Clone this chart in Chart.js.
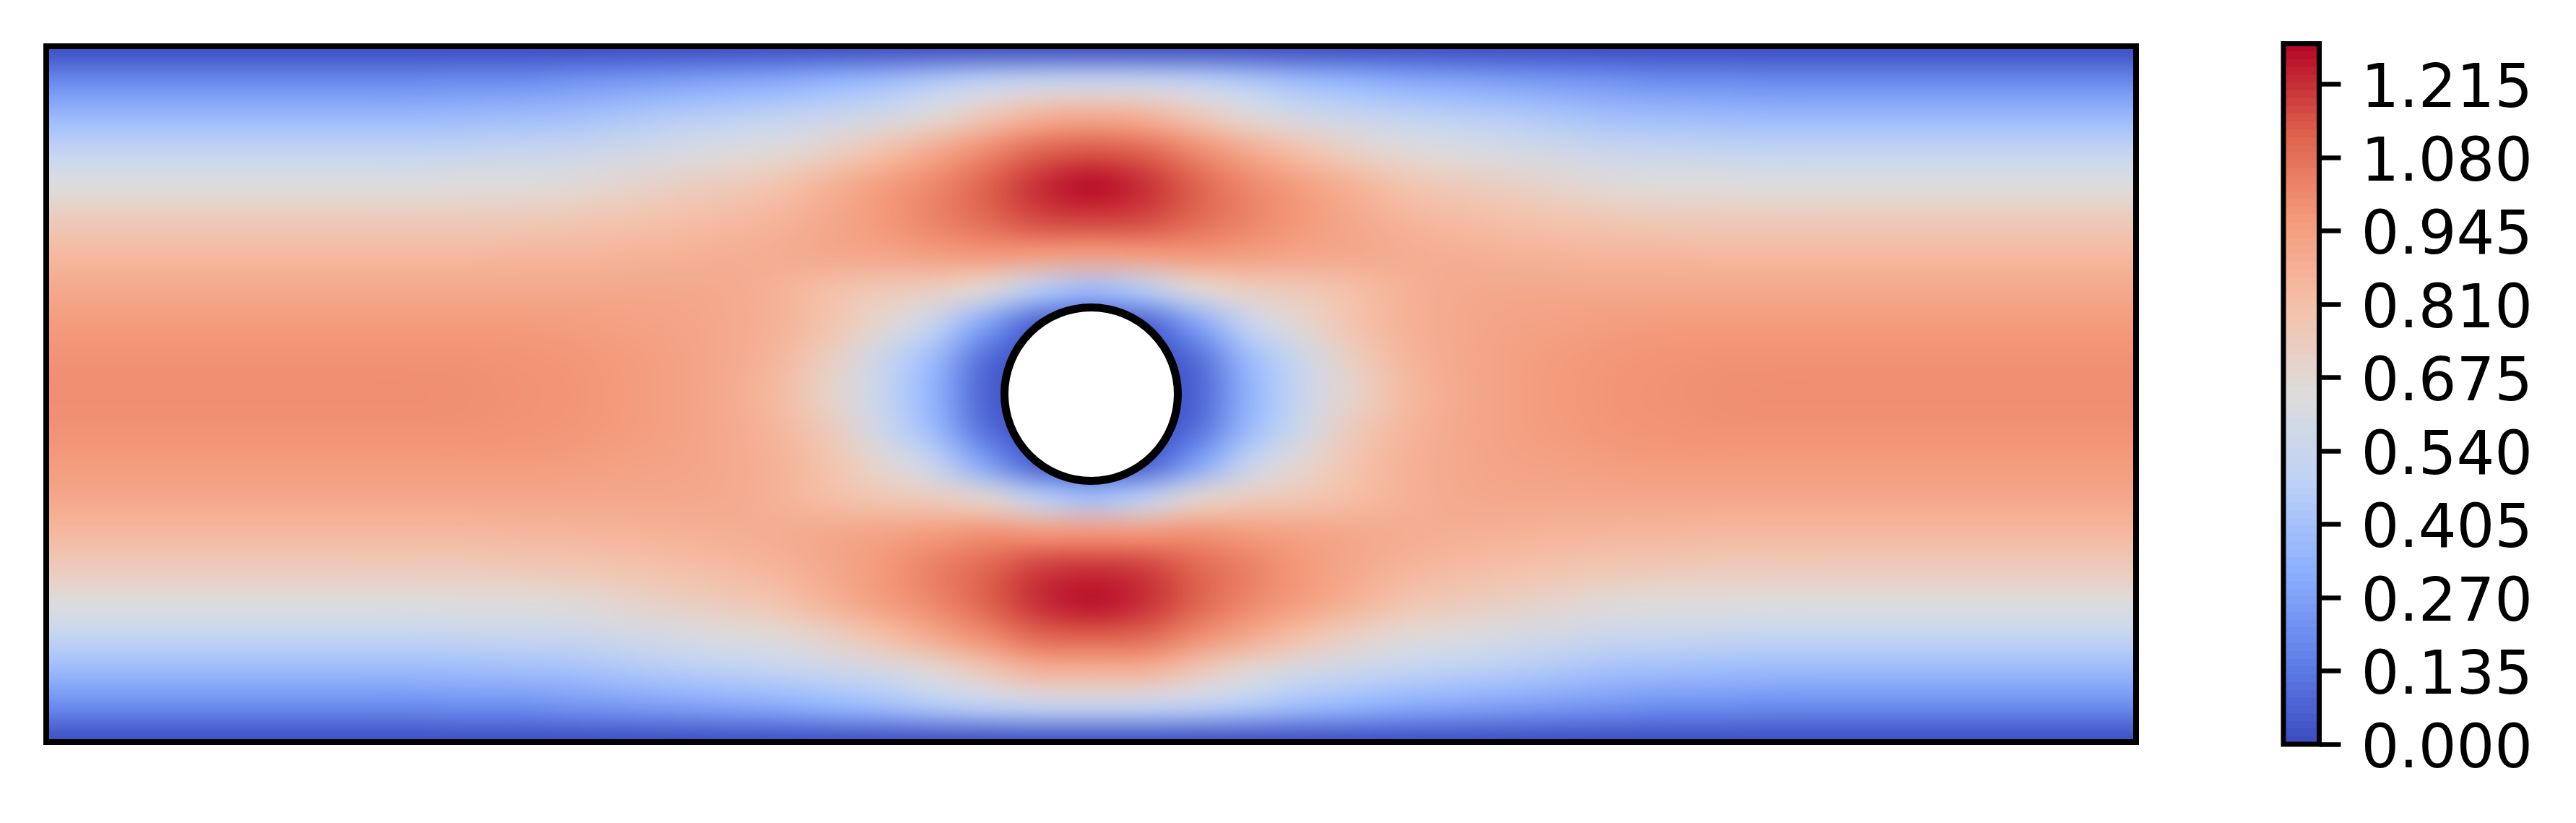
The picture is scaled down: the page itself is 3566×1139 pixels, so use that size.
<!DOCTYPE html>
<html><head><meta charset="utf-8">
<style>html,body{margin:0;padding:0;background:#fff;width:3566px;height:1139px;overflow:hidden}
canvas{position:absolute;left:0;top:0}</style>
<script src="https://cdn.jsdelivr.net/npm/chart.js@4/dist/chart.umd.min.js"></script>
</head><body>
<canvas id="field" width="3566" height="1139"></canvas>
<canvas id="bar" width="3566" height="1139"></canvas>
<script>
const columnX=[0,.075,.15,.225,.3,.375,.45,.525,.6,.675,.75,.825,.9,.975,1.05,1.125,1.2,1.275,1.35,1.425,1.5,1.575,1.65,1.725,1.8,1.875,1.95,2.025,2.1,2.175,2.25,2.325,2.4,2.475,2.55,2.625,2.7,2.775,2.85,2.925,3];
const rowY=[1,.95,.9,.85,.8,.75,.7,.65,.6,.55,.5,.45,.4,.35,.3,.25,.2,.15,.1,.05,0];
const speedRows=[
[0,0,0,0,0,0,0,0,0,0,0,0,0,0,0,0,0,0,0,0,0,0,0,0,0,0,0,0,0,0,0,0,0,0,0,0,0,0,0,0,0],
[.19,.19,.19,.19,.19,.19,.19,.19,.20,.20,.22,.24,.26,.28,.30,.34,.38,.44,.49,.52,.53,.52,.49,.44,.38,.34,.30,.28,.26,.24,.22,.20,.20,.19,.19,.19,.19,.19,.19,.19,.19],
[.36,.36,.36,.36,.36,.36,.36,.36,.37,.38,.39,.42,.45,.47,.50,.54,.58,.66,.76,.86,.89,.86,.76,.66,.58,.54,.50,.47,.45,.42,.39,.38,.37,.36,.36,.36,.36,.36,.36,.36,.36],
[.51,.51,.51,.51,.51,.51,.51,.51,.52,.53,.54,.57,.60,.63,.66,.71,.80,.90,1.01,1.11,1.14,1.11,1.01,.90,.80,.71,.66,.63,.60,.57,.54,.53,.52,.51,.51,.51,.51,.51,.51,.51,.51],
[.64,.64,.64,.64,.64,.64,.64,.64,.65,.65,.66,.69,.72,.75,.79,.87,.95,1.02,1.12,1.22,1.28,1.22,1.12,1.02,.95,.87,.79,.75,.72,.69,.66,.65,.65,.64,.64,.64,.64,.64,.64,.64,.64],
[.75,.75,.75,.75,.75,.75,.75,.75,.75,.76,.77,.79,.81,.83,.86,.91,.97,1.03,1.10,1.17,1.18,1.17,1.10,1.03,.97,.91,.86,.83,.81,.79,.77,.76,.75,.75,.75,.75,.75,.75,.75,.75,.75],
[.84,.84,.84,.84,.84,.84,.84,.84,.84,.85,.85,.86,.87,.88,.89,.91,.92,.95,.97,.95,.94,.95,.97,.95,.92,.91,.89,.88,.87,.86,.85,.85,.84,.84,.84,.84,.84,.84,.84,.84,.84],
[.91,.91,.91,.91,.91,.91,.91,.91,.91,.91,.91,.91,.91,.90,.87,.81,.76,.73,.66,.46,.38,.46,.66,.73,.76,.81,.87,.90,.91,.91,.91,.91,.91,.91,.91,.91,.91,.91,.91,.91,.91],
[.96,.96,.96,.96,.96,.96,.96,.96,.96,.96,.955,.94,.93,.905,.87,.79,.68,.52,.27,.05,0,.05,.27,.52,.68,.79,.87,.905,.93,.94,.955,.96,.96,.96,.96,.96,.96,.96,.96,.96,.96],
[.99,.99,.99,.99,.99,.99,.99,.99,.99,.985,.975,.96,.94,.905,.85,.73,.55,.37,.09,0,0,0,.09,.37,.55,.73,.85,.905,.94,.96,.975,.985,.99,.99,.99,.99,.99,.99,.99,.99,.99],
[1,1,1,1,1,1,1,1,.995,.99,.98,.965,.94,.90,.83,.70,.53,.33,.06,0,0,0,.06,.33,.53,.70,.83,.90,.94,.965,.98,.99,.995,1,1,1,1,1,1,1,1],
[.99,.99,.99,.99,.99,.99,.99,.99,.99,.985,.975,.96,.94,.905,.85,.75,.56,.37,.10,0,0,0,.10,.37,.56,.75,.85,.905,.94,.96,.975,.985,.99,.99,.99,.99,.99,.99,.99,.99,.99],
[.96,.96,.96,.96,.96,.96,.96,.96,.96,.96,.955,.94,.93,.905,.87,.79,.68,.52,.27,.05,0,.05,.27,.52,.68,.79,.87,.905,.93,.94,.955,.96,.96,.96,.96,.96,.96,.96,.96,.96,.96],
[.91,.91,.91,.91,.91,.91,.91,.91,.91,.91,.91,.91,.91,.90,.87,.82,.77,.74,.68,.48,.40,.48,.68,.74,.77,.82,.87,.90,.91,.91,.91,.91,.91,.91,.91,.91,.91,.91,.91,.91,.91],
[.84,.84,.84,.84,.84,.84,.84,.84,.84,.85,.85,.86,.87,.88,.89,.91,.93,.96,.99,.97,.97,.97,.99,.96,.93,.91,.89,.88,.87,.86,.85,.85,.84,.84,.84,.84,.84,.84,.84,.84,.84],
[.75,.75,.75,.75,.75,.75,.75,.75,.75,.76,.77,.79,.81,.83,.86,.91,.97,1.04,1.11,1.19,1.21,1.19,1.11,1.04,.97,.91,.86,.83,.81,.79,.77,.76,.75,.75,.75,.75,.75,.75,.75,.75,.75],
[.64,.64,.64,.64,.64,.64,.64,.64,.65,.65,.66,.69,.72,.75,.79,.87,.95,1.02,1.12,1.22,1.27,1.22,1.12,1.02,.95,.87,.79,.75,.72,.69,.66,.65,.65,.64,.64,.64,.64,.64,.64,.64,.64],
[.51,.51,.51,.51,.51,.51,.51,.51,.52,.53,.54,.57,.60,.63,.66,.71,.80,.90,1.00,1.10,1.115,1.10,1.00,.90,.80,.71,.66,.63,.60,.57,.54,.53,.52,.51,.51,.51,.51,.51,.51,.51,.51],
[.36,.36,.36,.36,.36,.36,.36,.36,.37,.38,.39,.42,.45,.47,.50,.54,.58,.66,.75,.85,.85,.85,.75,.66,.58,.54,.50,.47,.45,.42,.39,.38,.37,.36,.36,.36,.36,.36,.36,.36,.36],
[.19,.19,.19,.19,.19,.19,.19,.19,.20,.20,.22,.24,.26,.28,.30,.34,.38,.44,.48,.51,.52,.51,.48,.44,.38,.34,.30,.28,.26,.24,.22,.20,.20,.19,.19,.19,.19,.19,.19,.19,.19],
[0,0,0,0,0,0,0,0,0,0,0,0,0,0,0,0,0,0,0,0,0,0,0,0,0,0,0,0,0,0,0,0,0,0,0,0,0,0,0,0,0]
];
const cylinderCentre=[{x:1.5,y:.5}];
const colorbarTicks=[0,.135,.27,.405,.54,.675,.81,.945,1.08,1.215];
const speedMax=1.29;

const coolwarmStops=[[0,59,76,192],[.125,98,130,234],[.25,141,176,254],[.375,190,210,246],[.5,221,220,220],[.625,245,193,169],[.75,244,154,123],[.875,221,95,75],[1,180,4,38]];
function coolwarm(t){
  t=Math.max(0,Math.min(1,t));
  for(let i=1;i<coolwarmStops.length;i++){
    const a=coolwarmStops[i-1],b=coolwarmStops[i];
    if(t<=b[0]){const f=(t-a[0])/(b[0]-a[0]);return [a[1]+f*(b[1]-a[1]),a[2]+f*(b[2]-a[2]),a[3]+f*(b[3]-a[3])];}
  }
  return coolwarmStops[8].slice(1);
}
const points=[];
rowY.forEach((y,r)=>columnX.forEach((x,c)=>points.push({x,y,v:speedRows[r][c]})));

const framePlugin=lw=>({id:'frame',afterDraw(chart){
  const a=chart.chartArea,ctx=chart.ctx;
  ctx.save();ctx.strokeStyle='#000';ctx.lineWidth=lw;
  ctx.strokeRect(a.left,a.top,a.right-a.left,a.bottom-a.top);ctx.restore();
}});
const fieldPlugin={id:'fieldImage',beforeDatasetsDraw(chart){
  const nx=columnX.length,ny=rowY.length,off=document.createElement('canvas');
  off.width=nx;off.height=ny;
  const oc=off.getContext('2d'),img=oc.createImageData(nx,ny);
  points.forEach((p,i)=>{const c=coolwarm(p.v/speedMax);img.data.set([c[0],c[1],c[2],255],i*4);});
  oc.putImageData(img,0,0);
  const X=chart.scales.x,Y=chart.scales.y,dx=(columnX[1]-columnX[0])/2,dy=(rowY[0]-rowY[1])/2;
  const x0=X.getPixelForValue(columnX[0]-dx),x1=X.getPixelForValue(columnX[nx-1]+dx);
  const y0=Y.getPixelForValue(rowY[0]+dy),y1=Y.getPixelForValue(rowY[ny-1]-dy);
  const a=chart.chartArea,ctx=chart.ctx;
  ctx.save();ctx.beginPath();ctx.rect(a.left,a.top,a.right-a.left,a.bottom-a.top);ctx.clip();
  ctx.imageSmoothingEnabled=true;ctx.imageSmoothingQuality='high';
  ctx.drawImage(off,x0,y0,x1-x0,y1-y0);ctx.restore();
}};

Chart.defaults.font.family='"DejaVu Sans"';
new Chart(document.getElementById('field'),{
  type:'scatter',
  data:{datasets:[
    {label:'Cylinder',data:cylinderCentre,pointRadius:120,pointHoverRadius:120,backgroundColor:'#fff',borderColor:'#000',borderWidth:11},
    {label:'Speed',data:points,pointRadius:0,pointHoverRadius:0}
  ]},
  plugins:[fieldPlugin,framePlugin(8)],
  options:{responsive:false,animation:false,events:[],
    layout:{autoPadding:false,padding:{left:64,top:64,right:609,bottom:112}},
    plugins:{legend:{display:false},tooltip:{enabled:false}},
    scales:{x:{type:'linear',min:0,max:3,display:false},y:{type:'linear',min:0,max:1,display:false}}
  }
});

// centre the digits' ink on each tick, as in the reference
const mc=document.createElement('canvas').getContext('2d');
mc.font='83px "DejaVu Sans"';mc.textBaseline='middle';
const mm=mc.measureText('0');
const inkCentreShift=(mm.actualBoundingBoxAscent-mm.actualBoundingBoxDescent)/2+.5;

new Chart(document.getElementById('bar'),{
  type:'bar',
  data:{labels:['Speed'],datasets:[{label:'Colour scale',data:[[0,speedMax]],barPercentage:1,categoryPercentage:1,
    backgroundColor(ctx){
      const a=ctx.chart.chartArea;if(!a)return '#888';
      const g=ctx.chart.ctx.createLinearGradient(0,a.bottom,0,a.top),n=90;
      for(let i=0;i<n;i++){
        const c=coolwarm((i+.5)/n),s=`rgb(${c.map(Math.round).join(',')})`;
        g.addColorStop(i/n,s);g.addColorStop((i+1)/n,s);
      }
      return g;
    }}]},
  plugins:[framePlugin(7)],
  options:{responsive:false,animation:false,events:[],
    layout:{autoPadding:false,padding:{left:3161,top:60.5,right:0,bottom:109}},
    plugins:{legend:{display:false},tooltip:{enabled:false}},
    scales:{
      x:{display:false},
      y:{type:'linear',position:'right',min:0,max:speedMax,
        afterBuildTicks(s){s.ticks=colorbarTicks.map(value=>({value}));},
        afterFit(s){s.width=355.5;s.paddingTop=0;s.paddingBottom=0;},
        grid:{drawOnChartArea:false,drawTicks:true,tickLength:30,tickWidth:6.5,tickColor:'#000'},
        border:{display:false},
        ticks:{color:'#000',padding:28,labelOffset:inkCentreShift,font:{size:83,family:'"DejaVu Sans"'},callback:v=>v.toFixed(3),autoSkip:false,maxRotation:0}
      }
    }
  }
});
</script>
</body></html>
